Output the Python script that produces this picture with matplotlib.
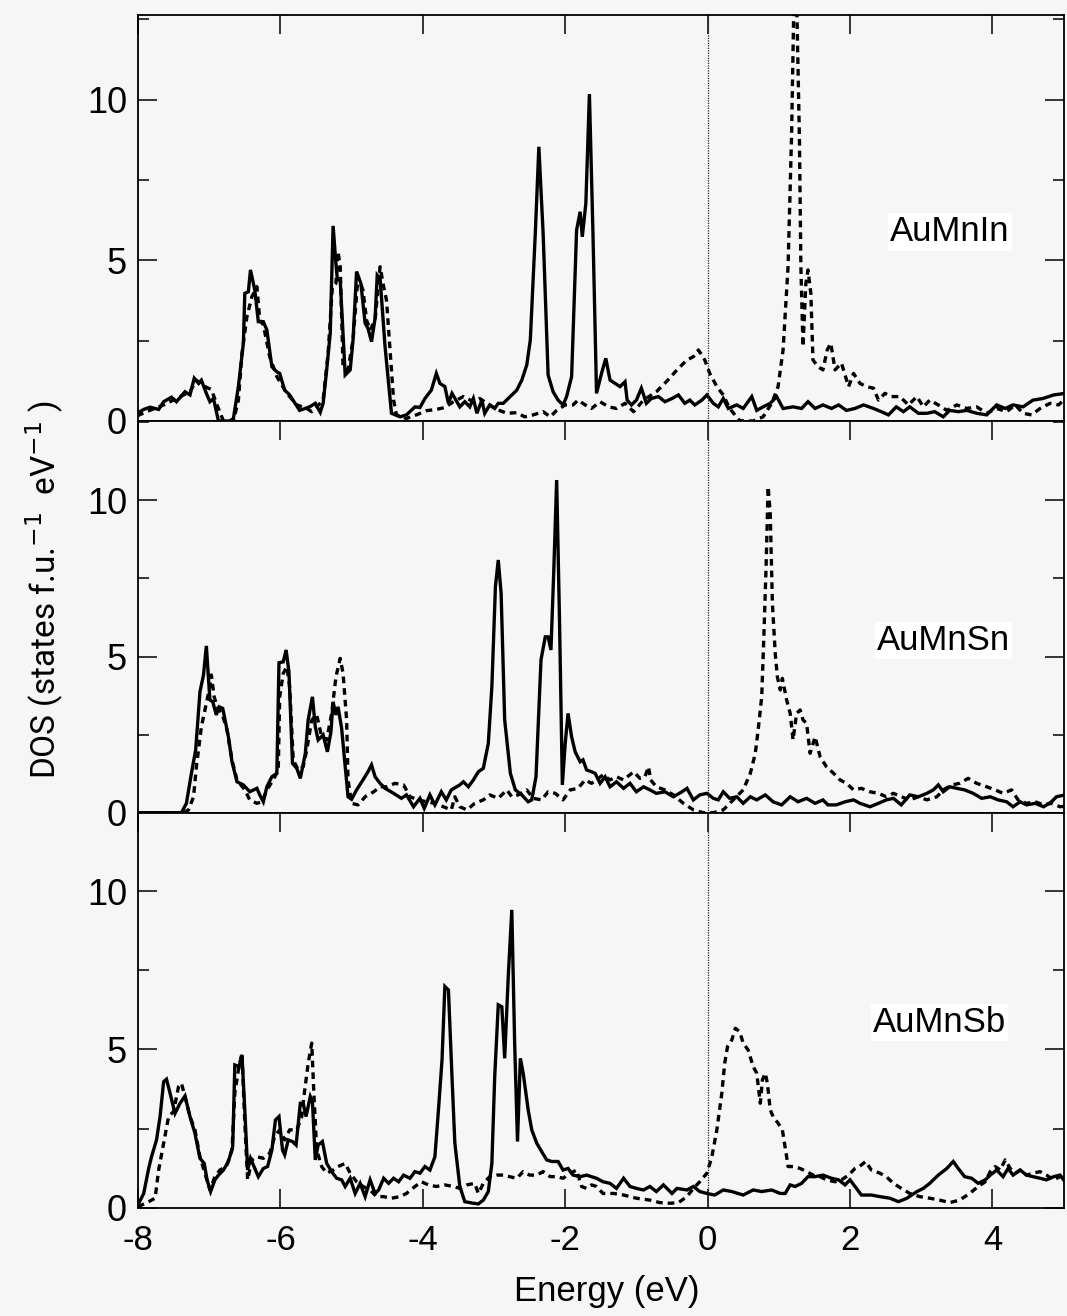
import matplotlib
matplotlib.use("Agg")
import matplotlib.pyplot as plt
from matplotlib.ticker import FixedLocator

plt.rcParams['font.family'] = ['Liberation Sans', 'DejaVu Sans']
plt.rcParams['axes.unicode_minus'] = False

# ---------------- data (energy in eV, DOS in states/f.u./eV) ----------------
# AuMnIn
in_up_E = [-8.01,-7.92,-7.83,-7.71,-7.64,-7.53,-7.46,-7.34,-7.27,-7.21,-7.15,-7.11,-7.04,-6.99,-6.94,-6.87,-6.71,-6.66,-6.59,-6.52,-6.50,-6.45,-6.42,-6.36,-6.31,-6.24,-6.19,-6.12,-6.05,-6.01,-5.94,-5.87,-5.73,-5.59,-5.51,-5.44,-5.40,-5.35,-5.30,-5.26,-5.22,-5.20,-5.16,-5.09,-5.02,-4.98,-4.93,-4.87,-4.81,-4.77,-4.72,-4.67,-4.64,-4.60,-4.53,-4.44,-4.32,-4.23,-4.11,-4.04,-3.97,-3.88,-3.81,-3.76,-3.69,-3.64,-3.59,-3.48,-3.41,-3.34,-3.29,-3.24,-3.17,-3.13,-3.06,-2.99,-2.94,-2.87,-2.80,-2.68,-2.61,-2.54,-2.49,-2.42,-2.37,-2.31,-2.24,-2.17,-2.10,-2.03,-1.98,-1.91,-1.84,-1.79,-1.76,-1.71,-1.66,-1.61,-1.56,-1.49,-1.43,-1.37,-1.30,-1.23,-1.16,-1.13,-1.07,-1.00,-0.93,-0.86,-0.79,-0.69,-0.60,-0.50,-0.41,-0.32,-0.25,-0.18,-0.08,-0.01,0.08,0.15,0.22,0.29,0.41,0.50,0.62,0.69,0.78,0.88,0.97,1.06,1.20,1.32,1.41,1.51,1.62,1.74,1.84,1.95,2.07,2.19,2.33,2.44,2.54,2.65,2.75,2.84,2.96,3.08,3.19,3.31,3.40,3.52,3.64,3.78,3.92,4.06,4.18,4.29,4.43,4.57,4.71,4.86,5.02]
in_up_D = [0.24,0.36,0.43,0.36,0.60,0.74,0.60,0.91,0.81,1.33,1.17,1.27,0.86,0.60,0.70,0.00,0.00,0.08,1.07,2.42,3.97,4.02,4.70,4.08,3.09,3.09,2.83,1.69,1.53,1.48,0.96,0.81,0.33,0.44,0.55,0.27,0.55,1.59,2.73,6.07,4.90,4.39,4.39,1.43,1.59,2.52,4.65,4.28,3.04,2.88,2.47,3.20,4.54,4.44,2.31,0.24,0.13,0.19,0.44,0.42,0.70,0.96,1.48,1.17,1.07,0.55,0.86,0.44,0.60,0.44,0.70,0.24,0.65,0.24,0.50,0.39,0.55,0.55,0.70,0.96,1.27,1.74,2.52,5.84,8.53,5.84,1.43,0.91,0.65,0.50,0.76,1.38,5.94,6.51,5.73,6.77,10.17,5.84,0.86,1.48,1.95,1.27,1.17,1.07,1.22,0.65,0.50,0.65,1.02,0.55,0.70,0.76,0.60,0.70,0.81,0.55,0.65,0.50,0.65,0.81,0.55,0.44,0.70,0.39,0.50,0.39,0.76,0.33,0.44,0.55,0.76,0.39,0.44,0.39,0.60,0.39,0.50,0.39,0.50,0.33,0.39,0.50,0.39,0.29,0.19,0.44,0.29,0.44,0.24,0.24,0.29,0.13,0.33,0.29,0.33,0.24,0.19,0.50,0.39,0.50,0.44,0.65,0.70,0.81,0.86]
in_dn_E = [-8.01,-7.88,-7.64,-7.46,-7.27,-7.18,-7.11,-6.97,-6.89,-6.80,-6.66,-6.59,-6.54,-6.47,-6.40,-6.33,-6.29,-6.24,-6.15,-6.05,-5.91,-5.77,-5.63,-5.56,-5.49,-5.40,-5.33,-5.27,-5.22,-5.19,-5.16,-5.12,-5.05,-4.98,-4.91,-4.84,-4.79,-4.74,-4.67,-4.60,-4.55,-4.51,-4.46,-4.41,-4.37,-4.23,-4.09,-3.95,-3.81,-3.69,-3.57,-3.43,-3.29,-3.20,-3.10,-2.96,-2.82,-2.68,-2.57,-2.45,-2.31,-2.21,-2.12,-2.00,-1.89,-1.82,-1.72,-1.63,-1.51,-1.39,-1.28,-1.16,-1.04,-0.90,-0.72,-0.58,-0.43,-0.29,-0.20,-0.13,-0.08,-0.04,0.03,0.13,0.22,0.31,0.45,0.64,0.78,0.90,0.99,1.06,1.13,1.18,1.21,1.25,1.29,1.31,1.34,1.38,1.41,1.45,1.48,1.55,1.62,1.68,1.73,1.79,1.88,1.98,2.05,2.14,2.23,2.33,2.40,2.49,2.58,2.70,2.82,2.94,3.03,3.12,3.24,3.36,3.50,3.64,3.78,3.92,4.06,4.20,4.32,4.43,4.55,4.67,4.81,4.93,5.02]
in_dn_D = [0.16,0.29,0.50,0.70,0.91,1.27,1.12,0.98,0.50,0.00,0.00,0.65,2.10,3.25,3.87,4.18,3.14,2.99,2.00,1.38,0.86,0.50,0.39,0.29,0.44,0.65,2.10,4.18,4.28,5.27,4.80,1.69,1.59,2.52,4.49,4.07,3.14,2.83,3.14,4.80,4.18,3.76,2.21,0.65,0.19,0.08,0.19,0.32,0.36,0.42,0.60,0.76,0.60,0.70,0.55,0.36,0.24,0.26,0.13,0.19,0.29,0.13,0.33,0.50,0.50,0.65,0.50,0.39,0.60,0.44,0.39,0.55,0.29,0.65,0.91,1.22,1.59,1.90,2.00,2.21,2.05,1.90,1.48,1.07,0.81,0.39,0.01,0.00,0.13,0.55,1.07,2.21,4.80,8.95,12.80,13.20,8.74,4.80,2.31,4.28,4.70,3.97,1.90,1.69,1.59,2.21,2.42,1.59,1.80,1.07,1.48,1.17,1.07,1.02,0.65,0.86,0.76,0.76,0.50,0.76,0.44,0.65,0.50,0.33,0.50,0.39,0.44,0.24,0.39,0.29,0.50,0.24,0.19,0.39,0.55,0.50,0.70]

# AuMnSn
sn_up_E = [-8.01,-7.39,-7.32,-7.25,-7.19,-7.13,-7.08,-7.04,-6.99,-6.95,-6.90,-6.86,-6.81,-6.73,-6.68,-6.61,-6.52,-6.43,-6.33,-6.29,-6.24,-6.19,-6.12,-6.05,-6.02,-5.96,-5.92,-5.88,-5.83,-5.77,-5.72,-5.65,-5.61,-5.55,-5.51,-5.47,-5.40,-5.34,-5.29,-5.26,-5.22,-5.19,-5.14,-5.09,-5.05,-5.00,-4.93,-4.84,-4.77,-4.72,-4.67,-4.60,-4.53,-4.41,-4.30,-4.23,-4.13,-4.04,-3.98,-3.90,-3.83,-3.74,-3.67,-3.60,-3.48,-3.43,-3.36,-3.29,-3.22,-3.15,-3.08,-3.03,-2.98,-2.94,-2.90,-2.85,-2.77,-2.70,-2.61,-2.52,-2.47,-2.41,-2.34,-2.28,-2.24,-2.20,-2.16,-2.12,-2.08,-2.04,-2.00,-1.96,-1.91,-1.86,-1.79,-1.75,-1.70,-1.63,-1.58,-1.51,-1.44,-1.37,-1.28,-1.18,-1.09,-1.00,-0.90,-0.81,-0.72,-0.60,-0.48,-0.36,-0.29,-0.20,-0.11,-0.01,0.08,0.15,0.22,0.31,0.41,0.50,0.60,0.69,0.81,0.92,1.04,1.16,1.27,1.39,1.51,1.62,1.69,1.81,1.93,2.05,2.14,2.28,2.40,2.51,2.61,2.72,2.84,2.96,3.08,3.17,3.24,3.31,3.40,3.50,3.61,3.73,3.85,3.97,4.08,4.20,4.29,4.39,4.48,4.60,4.72,4.83,4.90,5.02]
sn_up_D = [0.00,0.00,0.30,1.26,2.01,3.87,4.41,5.34,3.61,3.55,3.13,3.39,3.34,2.43,1.63,0.99,0.89,0.67,0.78,0.57,0.35,0.83,1.15,1.26,4.80,4.83,5.21,4.51,1.58,1.42,1.10,1.90,2.97,3.71,2.75,2.33,2.49,1.95,2.59,3.55,3.13,3.39,2.70,1.47,0.51,0.43,0.73,1.05,1.31,1.53,1.15,0.94,0.78,0.62,0.46,0.57,0.19,0.46,0.14,0.57,0.25,0.67,0.41,0.73,0.89,0.99,0.83,1.05,1.31,1.42,2.22,4.03,7.24,8.09,7.02,2.97,1.26,0.73,0.57,0.35,0.41,1.15,4.89,5.63,5.63,5.21,7.77,10.65,6.17,0.89,2.22,3.18,2.43,1.95,1.63,1.69,1.37,1.31,1.26,0.94,1.15,0.83,0.99,0.78,0.94,0.67,0.83,0.73,0.62,0.67,0.51,0.67,0.78,0.41,0.57,0.62,0.46,0.41,0.67,0.46,0.51,0.30,0.51,0.41,0.57,0.35,0.25,0.51,0.35,0.46,0.30,0.41,0.25,0.25,0.35,0.41,0.30,0.19,0.30,0.41,0.46,0.25,0.57,0.51,0.62,0.73,0.89,0.67,0.83,0.78,0.73,0.62,0.46,0.51,0.41,0.35,0.19,0.35,0.25,0.30,0.19,0.35,0.51,0.57]
sn_dn_E = [-8.01,-7.36,-7.29,-7.22,-7.18,-7.11,-7.04,-6.99,-6.97,-6.93,-6.89,-6.82,-6.75,-6.68,-6.61,-6.50,-6.43,-6.33,-6.26,-6.19,-6.10,-6.03,-6.01,-5.96,-5.91,-5.87,-5.82,-5.75,-5.68,-5.63,-5.56,-5.49,-5.42,-5.35,-5.28,-5.22,-5.16,-5.12,-5.07,-5.05,-5.00,-4.91,-4.81,-4.69,-4.60,-4.51,-4.39,-4.27,-4.18,-4.06,-3.95,-3.83,-3.71,-3.60,-3.55,-3.48,-3.38,-3.27,-3.15,-3.06,-2.94,-2.82,-2.75,-2.66,-2.54,-2.45,-2.33,-2.24,-2.14,-2.03,-1.93,-1.82,-1.72,-1.63,-1.56,-1.47,-1.37,-1.28,-1.18,-1.04,-0.95,-0.88,-0.83,-0.80,-0.72,-0.60,-0.48,-0.34,-0.20,-0.06,0.08,0.22,0.36,0.50,0.60,0.67,0.71,0.76,0.79,0.82,0.85,0.88,0.91,0.95,0.98,1.02,1.05,1.11,1.16,1.20,1.25,1.30,1.34,1.39,1.44,1.51,1.58,1.67,1.77,1.86,1.95,2.05,2.16,2.28,2.40,2.51,2.61,2.72,2.84,2.96,3.08,3.22,3.31,3.43,3.54,3.66,3.78,3.92,4.04,4.15,4.27,4.36,4.48,4.60,4.72,4.83,4.95,5.02]
sn_dn_D = [0.00,0.00,0.09,0.51,1.47,2.75,3.50,4.04,4.41,3.71,3.39,3.18,2.65,1.69,1.05,0.73,0.41,0.30,0.35,0.73,1.05,1.37,3.71,4.46,4.67,4.03,1.69,1.37,1.47,2.01,2.97,3.13,2.43,2.33,3.18,4.35,4.94,4.46,2.97,1.05,0.30,0.25,0.51,0.67,0.83,0.83,0.94,0.89,0.51,0.41,0.35,0.30,0.19,0.09,0.51,0.19,0.09,0.30,0.41,0.57,0.46,0.73,0.51,0.57,0.73,0.46,0.41,0.67,0.62,0.41,0.73,0.78,1.05,0.94,1.05,1.21,1.05,1.15,1.05,1.31,1.10,1.15,1.47,1.05,0.83,0.73,0.57,0.30,0.09,0.00,0.00,0.09,0.41,0.73,1.26,1.90,2.65,3.71,5.63,7.77,10.44,9.58,6.70,5.10,4.35,3.93,4.30,3.61,3.18,2.33,3.18,3.29,2.97,2.86,1.90,2.43,1.79,1.47,1.26,1.05,0.94,0.73,0.78,0.67,0.62,0.51,0.62,0.51,0.41,0.51,0.41,0.51,0.73,0.89,0.94,1.10,0.94,0.83,0.73,0.62,0.73,0.41,0.30,0.35,0.25,0.30,0.19,0.21]

# AuMnSb
sb_up_E = [-8.00,-7.92,-7.85,-7.81,-7.74,-7.69,-7.64,-7.60,-7.55,-7.48,-7.41,-7.34,-7.27,-7.20,-7.13,-7.07,-7.03,-6.98,-6.92,-6.87,-6.80,-6.73,-6.67,-6.64,-6.58,-6.54,-6.50,-6.46,-6.42,-6.37,-6.31,-6.24,-6.18,-6.12,-6.07,-6.02,-5.97,-5.94,-5.89,-5.83,-5.78,-5.72,-5.68,-5.64,-5.58,-5.55,-5.51,-5.47,-5.41,-5.35,-5.28,-5.21,-5.14,-5.09,-5.02,-4.95,-4.88,-4.81,-4.74,-4.67,-4.62,-4.55,-4.48,-4.41,-4.34,-4.27,-4.18,-4.11,-4.04,-3.97,-3.90,-3.83,-3.78,-3.73,-3.69,-3.64,-3.59,-3.55,-3.48,-3.41,-3.29,-3.22,-3.15,-3.08,-3.03,-2.99,-2.94,-2.89,-2.85,-2.80,-2.75,-2.71,-2.67,-2.63,-2.59,-2.52,-2.47,-2.40,-2.33,-2.26,-2.19,-2.10,-2.03,-1.96,-1.89,-1.79,-1.70,-1.63,-1.56,-1.47,-1.37,-1.28,-1.18,-1.09,-1.00,-0.90,-0.81,-0.72,-0.62,-0.50,-0.43,-0.29,-0.20,-0.11,-0.01,0.10,0.22,0.34,0.50,0.64,0.76,0.90,1.02,1.09,1.16,1.23,1.32,1.41,1.51,1.62,1.74,1.84,1.93,2.00,2.09,2.16,2.30,2.42,2.56,2.68,2.80,2.94,3.03,3.12,3.24,3.36,3.45,3.52,3.61,3.71,3.80,3.90,3.97,4.06,4.15,4.22,4.29,4.39,4.48,4.57,4.67,4.76,4.86,4.95,5.02]
sb_up_D = [0.09,0.45,1.24,1.61,2.14,2.88,3.98,4.06,3.62,2.98,3.30,3.53,2.88,2.35,1.56,1.40,0.88,0.51,0.88,1.03,1.19,1.46,1.93,4.51,4.46,4.83,3.09,1.19,1.56,1.30,0.98,1.24,1.30,1.82,2.77,2.88,1.82,1.67,2.14,2.09,1.98,3.30,3.30,2.88,3.51,3.35,1.51,1.98,2.09,1.40,1.14,0.93,0.88,0.67,0.93,0.45,0.77,0.35,0.88,0.45,0.56,0.93,0.77,0.93,0.82,1.03,0.93,1.14,1.09,1.30,1.19,1.61,3.09,4.67,6.99,6.88,4.14,2.04,0.67,0.19,0.14,0.12,0.24,0.51,1.40,4.14,6.41,6.35,4.72,7.30,9.41,5.20,2.09,4.72,4.25,3.09,2.46,2.04,1.77,1.51,1.46,1.46,1.19,1.24,1.03,0.98,1.03,0.98,0.93,0.82,0.77,0.61,0.93,0.67,0.61,0.56,0.67,0.51,0.72,0.45,0.61,0.56,0.67,0.51,0.45,0.40,0.56,0.51,0.40,0.56,0.51,0.56,0.45,0.45,0.72,0.67,0.77,0.98,0.98,1.03,0.93,0.88,0.72,0.88,0.61,0.40,0.40,0.35,0.30,0.19,0.30,0.51,0.61,0.77,1.03,1.24,1.46,1.24,0.98,0.93,0.77,0.88,1.03,1.19,0.98,1.24,1.03,1.19,1.03,0.98,0.93,0.88,0.98,1.03,0.82]
sb_dn_E = [-8.00,-7.85,-7.76,-7.71,-7.64,-7.57,-7.50,-7.43,-7.39,-7.34,-7.27,-7.20,-7.13,-7.06,-6.99,-6.92,-6.85,-6.76,-6.68,-6.64,-6.59,-6.54,-6.50,-6.46,-6.40,-6.33,-6.24,-6.15,-6.08,-6.01,-5.94,-5.87,-5.77,-5.70,-5.67,-5.61,-5.56,-5.53,-5.49,-5.42,-5.35,-5.26,-5.19,-5.09,-5.02,-4.93,-4.84,-4.74,-4.65,-4.55,-4.44,-4.32,-4.23,-4.11,-4.02,-3.92,-3.81,-3.69,-3.57,-3.48,-3.38,-3.27,-3.22,-3.15,-3.06,-2.96,-2.87,-2.78,-2.68,-2.59,-2.50,-2.40,-2.31,-2.21,-2.12,-2.03,-1.93,-1.84,-1.77,-1.70,-1.63,-1.56,-1.47,-1.32,-1.18,-1.00,-0.81,-0.67,-0.53,-0.41,-0.29,-0.20,-0.11,-0.01,0.06,0.13,0.20,0.24,0.28,0.34,0.39,0.45,0.50,0.57,0.64,0.69,0.74,0.77,0.81,0.84,0.88,0.92,0.99,1.05,1.11,1.13,1.20,1.30,1.39,1.48,1.58,1.67,1.79,1.88,1.98,2.07,2.16,2.22,2.30,2.42,2.51,2.61,2.72,2.84,2.98,3.12,3.26,3.40,3.54,3.68,3.80,3.90,3.97,4.04,4.11,4.18,4.25,4.32,4.39,4.48,4.57,4.67,4.76,4.86,4.95,5.02]
sb_dn_D = [0.03,0.19,0.30,1.19,2.04,2.88,3.04,3.83,3.93,3.51,2.88,2.46,1.61,1.09,0.56,0.98,1.19,1.30,1.82,3.62,4.35,4.88,2.67,0.88,1.51,1.61,1.56,1.72,2.25,2.46,2.14,2.46,2.46,2.88,3.51,4.56,5.20,3.62,1.82,1.30,1.09,1.19,1.30,1.40,1.09,0.82,0.67,0.56,0.35,0.35,0.30,0.35,0.45,0.67,0.82,0.72,0.67,0.72,0.67,0.61,0.72,0.77,0.45,0.77,0.98,1.03,1.03,0.98,0.93,1.14,1.03,1.03,1.14,0.98,0.98,0.93,1.09,1.19,0.67,0.61,0.72,0.67,0.45,0.45,0.40,0.30,0.24,0.16,0.14,0.16,0.35,0.61,0.82,1.09,1.61,2.46,3.62,4.56,5.09,5.30,5.67,5.56,5.20,4.98,4.46,4.25,3.30,4.04,4.25,3.93,3.09,2.88,2.67,2.46,1.61,1.30,1.30,1.24,1.14,1.03,0.98,0.88,0.82,0.88,1.03,1.24,1.35,1.46,1.19,1.09,0.98,0.77,0.61,0.45,0.35,0.30,0.24,0.16,0.24,0.45,0.67,0.82,1.14,1.30,1.19,1.51,1.24,1.09,1.19,1.03,1.09,1.14,1.03,0.88,0.98,1.03]

compounds = ['AuMnIn', 'AuMnSn', 'AuMnSb']
x_ticks = [-8, -6, -4, -2, 0, 2, 4]
y_major = [0, 5, 10]
y_minor = [2.5, 7.5, 12.5]

series = [
    (in_up_E, in_up_D, in_dn_E, in_dn_D),
    (sn_up_E, sn_up_D, sn_dn_E, sn_dn_D),
    (sb_up_E, sb_up_D, sb_dn_E, sb_dn_D),
]

# ---------------- layout ----------------
W, H = 1067, 1316
bg = '#f6f6f6'
fig = plt.figure(figsize=(W / 100, H / 100), dpi=100, facecolor=bg)

left_px, right_px = 138, 1063.6
panels_px = [(15, 421, 12.63), (421, 812.7, 12.54), (812.7, 1207.7, 12.48)]
label_pos = [(3.40, 5.88), (3.31, 5.50), (3.26, 5.84)]

for i, ((top, bot, ytop), (ue, ud, de, dd), name, (lx, ly)) in enumerate(
        zip(panels_px, series, compounds, label_pos)):
    ax = fig.add_axes([left_px / W, 1 - bot / H, (right_px - left_px) / W, (bot - top) / H])
    ax.set_facecolor(bg)
    ax.plot(ue, ud, color='black', lw=2.4, solid_joinstyle='miter')
    ax.plot(de, dd, color='black', lw=2.4, linestyle=(0, (2.0, 1.5)))
    ax.axvline(0, color='#222222', lw=0.9, linestyle=(0, (1, 1)))
    ax.set_xlim(-8, 5)
    ax.set_ylim(0, ytop)
    ax.xaxis.set_major_locator(FixedLocator(x_ticks))
    ax.yaxis.set_major_locator(FixedLocator(y_major))
    ax.yaxis.set_minor_locator(FixedLocator(y_minor))
    ax.set_yticklabels([str(v) for v in y_major])
    ax.tick_params(axis='y', which='major', direction='in', length=14, width=1.1,
                   left=True, right=True, labelsize=26, pad=8)
    ax.tick_params(axis='y', which='minor', direction='in', length=8, width=1.1,
                   left=True, right=True)
    last = (i == 2)
    ax.tick_params(axis='x', which='major', direction='in', length=14, width=1.1,
                   top=True, bottom=last, labelbottom=last, labelsize=25, pad=12)
    if last:
        ax.set_xticklabels([str(v) for v in x_ticks])
    for s in ax.spines.values():
        s.set_linewidth(1.3)
    ax.text(lx, ly, name, fontsize=25, ha='center', va='center',
            bbox=dict(facecolor='white', edgecolor='none', pad=1.5), zorder=5)

fig.text(607 / W, 1 - 1292 / H, 'Energy (eV)', fontsize=25, ha='center', va='center')
fig.text(45 / W, 1 - 590 / H, 'DOS (states f.u.$^{-1}$  eV$^{-1}$ )', fontsize=24,
         rotation=90, ha='center', va='center', family=['Roboto', 'DejaVu Sans'])

fig.savefig('out.png', dpi=100, facecolor=bg)
